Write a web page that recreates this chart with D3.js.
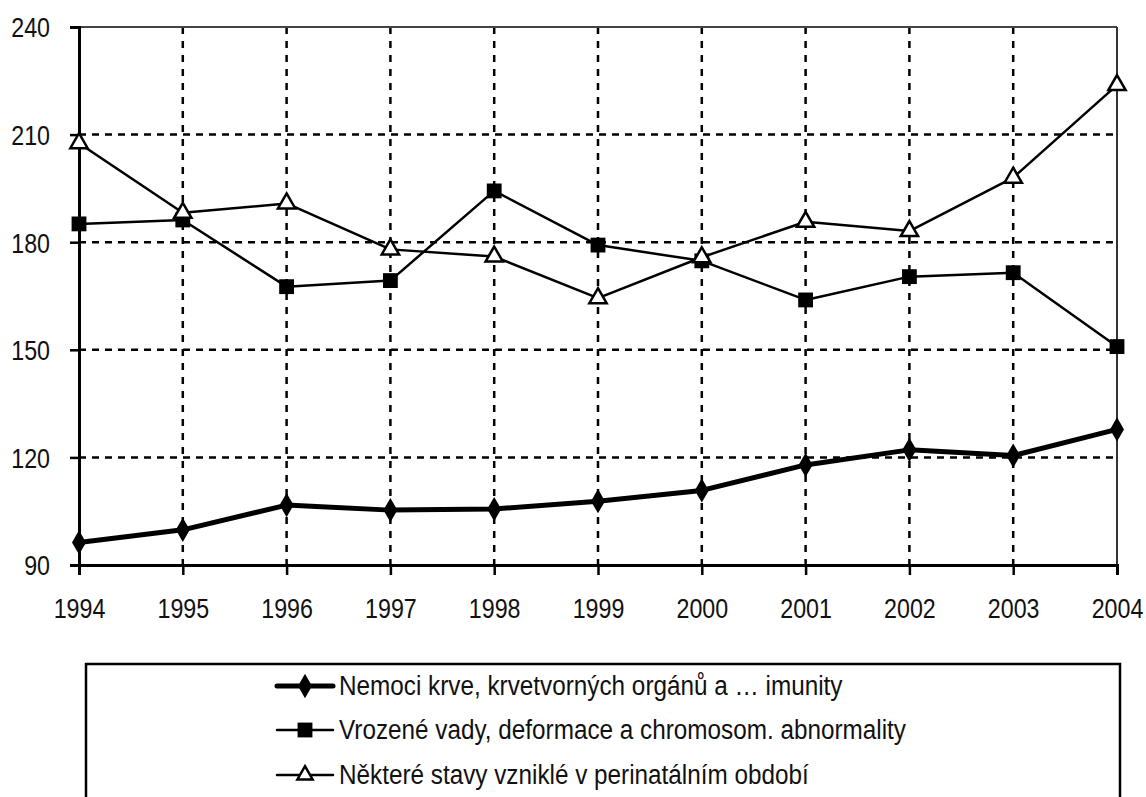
<!DOCTYPE html>
<html><head><meta charset="utf-8">
<script src="https://cdn.jsdelivr.net/npm/d3@7"></script>
<style>
body{margin:0;background:#fff;}
text{font-family:"Liberation Sans Narrow","Liberation Sans",Arial,sans-serif;fill:#111;}
</style></head>
<body>
<svg id="c" width="1146" height="797"></svg>
<script>
const years = [1994,1995,1996,1997,1998,1999,2000,2001,2002,2003,2004];
const yTicks = [90,120,150,180,210,240];
const seriesNames = [
  "Nemoci krve, krvetvorných orgánů a … imunity",
  "Vrozené vady, deformace a chromosom. abnormality",
  "Některé stavy vzniklé v perinatálním období"
];
const nemoci = [96.3,99.8,106.7,105.3,105.6,107.8,110.8,117.9,122.1,120.5,127.8];
const vrozene = [185.1,186.2,167.6,169.3,194.3,179.2,174.8,163.9,170.4,171.5,150.9];
const perinat = [207.6,188.2,190.8,178.0,176.0,164.4,175.8,185.7,183.1,198.0,223.8];

const NARROW = 0.83;
const LEG_NARROW = 0.9;
const svg = d3.select("#c");
const L=79, R=1117, T=27, B=565;
const x = d3.scaleLinear().domain([1994,2004]).range([L,R]);
const y = d3.scaleLinear().domain([90,240]).range([B,T]);

// grid
const g = svg.append("g");
g.selectAll(".hg").data(yTicks.filter(v=>v>90 && v<240)).join("line")
  .attr("x1",L).attr("x2",R).attr("y1",d=>y(d)).attr("y2",d=>y(d))
  .attr("stroke","#000").attr("stroke-width",2.5).attr("stroke-dasharray","7,6");
g.selectAll(".vg").data(years.slice(1,-1)).join("line")
  .attr("x1",d=>x(d)).attr("x2",d=>x(d)).attr("y1",T).attr("y2",B)
  .attr("stroke","#000").attr("stroke-width",2.5).attr("stroke-dasharray","7,7");
svg.append("line").attr("x1",L).attr("x2",R).attr("y1",T).attr("y2",T).attr("stroke","#444").attr("stroke-width",2);
svg.append("line").attr("x1",R).attr("x2",R).attr("y1",T).attr("y2",B).attr("stroke","#333").attr("stroke-width",2);

// axes
const yAxis = d3.axisLeft(y).tickValues(yTicks).tickSize(9).tickFormat(d3.format("d"));
const ya = svg.append("g").attr("transform",`translate(${L},0)`).call(yAxis);
ya.select(".domain").attr("stroke","#000").attr("stroke-width",3);
ya.selectAll(".tick line").attr("stroke","#000").attr("stroke-width",2.5);
ya.selectAll("text").attr("font-size",28).attr("x",null).attr("dy","0.35em")
  .attr("transform",`translate(-29,0) scale(${NARROW},1)`).style("fill","#111");

const xAxis = d3.axisBottom(x).tickValues(years).tickSize(10).tickFormat(d3.format("d"));
const xa = svg.append("g").attr("transform",`translate(0,${B})`).call(xAxis);
xa.select(".domain").attr("stroke","#000").attr("stroke-width",3);
xa.selectAll(".tick line").attr("stroke","#000").attr("stroke-width",2.5);
xa.selectAll("text").attr("font-size",28).attr("y",null).attr("dy",null)
  .attr("transform",`translate(0,53) scale(${NARROW},1)`).style("fill","#111");

const line = d3.line().x((d,i)=>x(years[i])).y(d=>y(d));
const diamond = d3.symbol().type(d3.symbolDiamond).size(170);
const square = d3.symbol().type(d3.symbolSquare).size(220);
const triangle = d3.symbol().type(d3.symbolTriangle).size(130);

function drawSeries(data, w, sym, fill){
  svg.append("path").datum(data).attr("d",line).attr("fill","none").attr("stroke","#000").attr("stroke-width",w).attr("stroke-linejoin","round");
  svg.append("g").selectAll("path").data(data).join("path")
    .attr("d",sym).attr("transform",(d,i)=>`translate(${x(years[i])},${y(d)})`)
    .attr("fill",fill).attr("stroke","#000").attr("stroke-width",fill==="#fff"?2.5:0);
}
drawSeries(vrozene,2.5,square,"#000");
drawSeries(perinat,2.5,triangle,"#fff");
drawSeries(nemoci,5,diamond,"#000");

// legend
svg.append("rect").attr("x",86).attr("y",664).attr("width",1034).attr("height",160)
  .attr("fill","none").attr("stroke","#000").attr("stroke-width",2.5);
const legSyms = [[diamond,"#000",5],[square,"#000",2.5],[d3.symbol().type(d3.symbolTriangle).size(100),"#fff",2.5]];
const legY = [686,730,775];
seriesNames.forEach((name,i)=>{
  const gy = legY[i];
  svg.append("line").attr("x1",277).attr("x2",333).attr("y1",gy).attr("y2",gy).attr("stroke","#000").attr("stroke-width",legSyms[i][2]).attr("stroke-linecap","round");
  svg.append("path").attr("d",legSyms[i][0]).attr("transform",`translate(305,${gy})`).attr("fill",legSyms[i][1]).attr("stroke","#000").attr("stroke-width",legSyms[i][1]==="#fff"?2.5:0);
  svg.append("text").attr("transform",`translate(339,${gy}) scale(${LEG_NARROW},1)`).attr("dy","0.35em").attr("font-size",27).text(name);
});
</script>
</body></html>
